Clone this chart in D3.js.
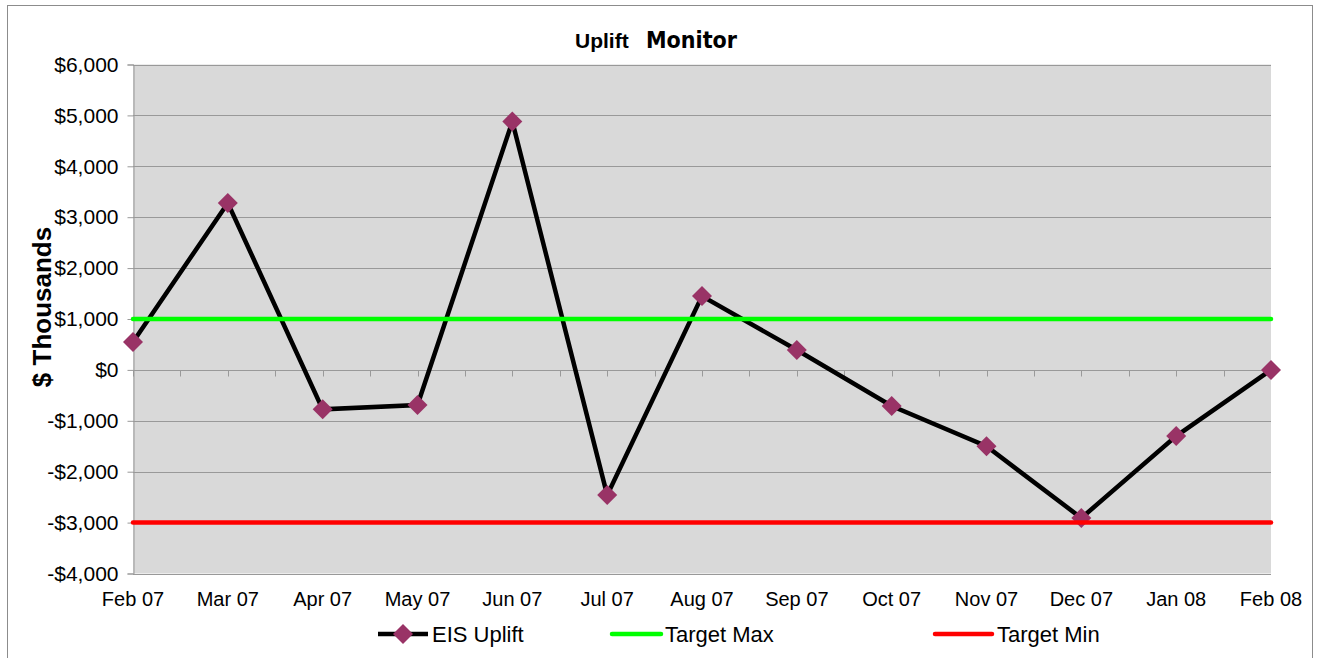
<!DOCTYPE html>
<html>
<head>
<meta charset="utf-8">
<script src="https://cdn.jsdelivr.net/npm/d3@7"></script>
<style>
  body { margin: 0; background: #fff; }
  svg { display: block; font-family: "Liberation Sans", Arial, sans-serif; }
</style>
</head>
<body>
<div id="chart"></div>
<script>
const WIDTH = 1320;
const HEIGHT = 658;
const MONTHS = ['Feb 07', 'Mar 07', 'Apr 07', 'May 07', 'Jun 07', 'Jul 07', 'Aug 07', 'Sep 07', 'Oct 07', 'Nov 07', 'Dec 07', 'Jan 08', 'Feb 08'];
const EIS_UPLIFT = [550, 3280, -775, -690, 4880, -2460, 1450, 390, -710, -1500, -2910, -1300, 0];
const TARGET_MAX = 1000;
const TARGET_MIN = -3000;
const Y_TICKS = [-4000, -3000, -2000, -1000, 0, 1000, 2000, 3000, 4000, 5000, 6000];
const MARGIN = { left: 133, right: 1271, top: 64.5, bottom: 573.5 };

const svg = d3.select('#chart').append('svg')
  .attr('width', WIDTH)
  .attr('height', HEIGHT);

// outer chart border
svg.append('rect')
  .attr('x', 7.5).attr('y', 5.5)
  .attr('width', 1305).attr('height', 700)
  .attr('fill', 'white')
  .attr('stroke', '#8c8c8c');

const x = d3.scalePoint()
  .domain(MONTHS)
  .range([MARGIN.left, MARGIN.right]);
const y = d3.scaleLinear()
  .domain([-4000, 6000])
  .range([MARGIN.bottom, MARGIN.top]);

svg.append('rect')
  .attr('x', MARGIN.left).attr('y', MARGIN.top)
  .attr('width', MARGIN.right - MARGIN.left)
  .attr('height', MARGIN.bottom - MARGIN.top)
  .attr('fill', '#d9d9d9');

// gridlines
svg.append('g').selectAll('line')
  .data(Y_TICKS)
  .enter()
  .append('line')
  .attr('x1', MARGIN.left).attr('x2', MARGIN.right)
  .attr('y1', d => Math.round(y(d)) + 0.5).attr('y2', d => Math.round(y(d)) + 0.5)
  .attr('stroke', '#999')
  .attr('stroke-width', 1);

const fmt = d => (d < 0 ? '-$' : '$') + d3.format(',')(Math.abs(d));
const yAxis = d3.axisLeft(y)
  .tickValues(Y_TICKS)
  .tickFormat(fmt)
  .tickSize(6)
  .tickPadding(9);
const yg = svg.append('g')
  .attr('transform', 'translate(' + (MARGIN.left + 0.5) + ',0)')
  .call(yAxis);
yg.select('.domain').attr('stroke', '#999');
yg.selectAll('.tick line').attr('stroke', '#999');
yg.selectAll('.tick text')
  .attr('font-size', 21)
  .attr('font-family', '"Liberation Sans", Arial, sans-serif')
  .attr('fill', '#000');

// category axis sits on the zero line, ticks at half-category steps
const step = x.step();
const halfTicks = d3.range(0, MONTHS.length * 2 - 1).map(i => MARGIN.left + i * step / 2);
const zeroY = Math.round(y(0)) + 0.5;
svg.append('g').selectAll('line')
  .data(halfTicks)
  .enter()
  .append('line')
  .attr('x1', d => Math.round(d) + 0.5).attr('x2', d => Math.round(d) + 0.5)
  .attr('y1', zeroY).attr('y2', zeroY + 6)
  .attr('stroke', '#999');

svg.append('g').selectAll('text')
  .data(MONTHS)
  .enter()
  .append('text')
  .attr('x', d => x(d))
  .attr('y', 606)
  .attr('text-anchor', 'middle')
  .attr('font-size', 20)
  .text(d => d);

// EIS Uplift series
const line = d3.line()
  .x((d, i) => x(MONTHS[i]))
  .y(d => y(d));
svg.append('path')
  .datum(EIS_UPLIFT)
  .attr('d', line)
  .attr('fill', 'none')
  .attr('stroke', '#000')
  .attr('stroke-width', 4.5)
  .attr('stroke-linejoin', 'miter');

const diamond = d3.symbol().type(d3.symbolSquare).size(200);
svg.append('g').selectAll('path')
  .data(EIS_UPLIFT)
  .enter()
  .append('path')
  .attr('d', diamond)
  .attr('transform', (d, i) => 'translate(' + x(MONTHS[i]) + ',' + y(d) + ') rotate(45)')
  .attr('fill', '#993366');

// target lines
svg.append('line')
  .attr('x1', MARGIN.left).attr('x2', MARGIN.right)
  .attr('y1', y(TARGET_MAX)).attr('y2', y(TARGET_MAX))
  .attr('stroke', '#00ff00').attr('stroke-width', 4.5).attr('stroke-linecap', 'round');
svg.append('line')
  .attr('x1', MARGIN.left).attr('x2', MARGIN.right)
  .attr('y1', y(TARGET_MIN)).attr('y2', y(TARGET_MIN))
  .attr('stroke', '#ff0000').attr('stroke-width', 4.5).attr('stroke-linecap', 'round');

// title (two fonts/sizes, like the original)
const title = svg.append('text')
  .attr('y', 48)
  .attr('font-weight', 'bold');
title.append('tspan')
  .attr('x', 575)
  .attr('font-size', 21)
  .attr('font-family', '"Liberation Sans", Arial, sans-serif')
  .text('Uplift');
title.append('tspan')
  .attr('x', 646)
  .attr('font-size', 23)
  .attr('font-family', '"DejaVu Sans Condensed", "DejaVu Sans", sans-serif')
  .attr('font-stretch', 'condensed')
  .text('Monitor');

svg.append('text')
  .attr('transform', 'translate(51,307) rotate(-90)')
  .attr('text-anchor', 'middle')
  .attr('font-size', 26)
  .attr('font-weight', 'bold')
  .text('$ Thousands');

// legend
const legend = svg.append('g').attr('font-size', 22);
const legendY = 634;
legend.append('line')
  .attr('x1', 378).attr('x2', 428).attr('y1', legendY).attr('y2', legendY)
  .attr('stroke', '#000').attr('stroke-width', 4.5);
legend.append('path')
  .attr('d', diamond)
  .attr('transform', 'translate(403,' + legendY + ') rotate(45)')
  .attr('fill', '#993366');
legend.append('text').attr('x', 432).attr('y', legendY + 8).text('EIS Uplift');

legend.append('line')
  .attr('x1', 612).attr('x2', 661).attr('y1', legendY).attr('y2', legendY)
  .attr('stroke', '#00ff00').attr('stroke-width', 4.5).attr('stroke-linecap', 'round');
legend.append('text').attr('x', 665).attr('y', legendY + 8).text('Target Max');

legend.append('line')
  .attr('x1', 935).attr('x2', 992).attr('y1', legendY).attr('y2', legendY)
  .attr('stroke', '#ff0000').attr('stroke-width', 4.5).attr('stroke-linecap', 'round');
legend.append('text').attr('x', 997).attr('y', legendY + 8).text('Target Min');
</script>
</body>
</html>
